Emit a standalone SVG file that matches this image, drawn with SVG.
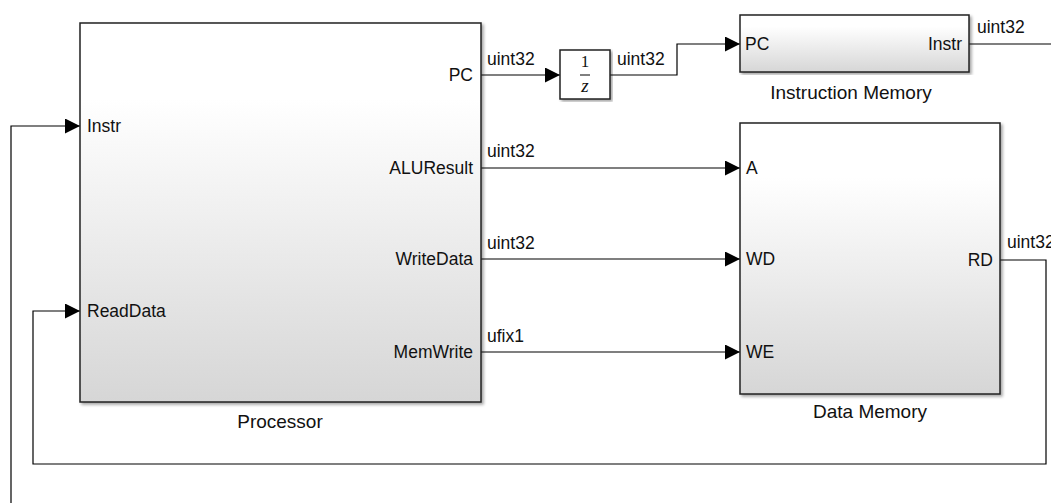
<svg xmlns="http://www.w3.org/2000/svg" width="1051" height="503" viewBox="0 0 1051 503">
<defs>
<linearGradient id="g" x1="0" y1="0" x2="0" y2="1">
<stop offset="0" stop-color="#ffffff"/>
<stop offset="0.2" stop-color="#ffffff"/>
<stop offset="1" stop-color="#d6d6d6"/>
</linearGradient>
<filter id="sh" x="-5%" y="-5%" width="110%" height="110%">
<feDropShadow dx="2" dy="2" stdDeviation="1.5" flood-color="#000" flood-opacity="0.35"/>
</filter>
<marker id="arr" markerWidth="16" markerHeight="16" refX="15" refY="7.5" orient="auto" markerUnits="userSpaceOnUse">
<path d="M0,0 L15,7.5 L0,15 Z" fill="#000"/>
</marker>
<style>
.blk{fill:url(#g);stroke:#222;stroke-width:1.5;filter:url(#sh)}
.plain{fill:#fff;stroke:#222;stroke-width:1.5;filter:url(#sh)}
text{font-family:"Liberation Sans",Arial,sans-serif;font-size:17.5px;fill:#111}
.end{text-anchor:end}
.mid{text-anchor:middle}
.title{font-size:19px}
.w{stroke:#000;stroke-width:1.2;fill:none}
.serif{font-family:"Liberation Serif","Times New Roman",serif}
</style>
</defs>

<g id="connectors">
<path class="w" d="M481,75 H560" marker-end="url(#arr)"/>
<path class="w" d="M610,75 H677 V44 H740" marker-end="url(#arr)"/>
<path class="w" d="M969,44 H1051"/>
<path class="w" d="M11,503 V126 H80" marker-end="url(#arr)"/>
<path class="w" d="M481,168 H740" marker-end="url(#arr)"/>
<path class="w" d="M481,259 H740" marker-end="url(#arr)"/>
<path class="w" d="M481,352 H740" marker-end="url(#arr)"/>
<path class="w" d="M1000,260 H1046 V464 H33 V311 H80" marker-end="url(#arr)"/>
<text x="487" y="65">uint32</text>
<text x="617" y="65">uint32</text>
<text x="977" y="33">uint32</text>
<text x="487" y="157">uint32</text>
<text x="487" y="249">uint32</text>
<text x="487" y="342">ufix1</text>
<text x="1007" y="248">uint32</text>
</g>

<g id="processor">
<rect class="blk" x="80" y="23" width="401" height="379"/>
<text x="87" y="132">Instr</text>
<text x="87" y="317">ReadData</text>
<text class="end" x="473" y="81">PC</text>
<text class="end" x="473" y="174">ALUResult</text>
<text class="end" x="473" y="265">WriteData</text>
<text class="end" x="473" y="358">MemWrite</text>
<text class="mid title" x="280" y="428">Processor</text>
</g>

<g id="delay">
<rect class="plain" x="560" y="50" width="50" height="49"/>
<text class="mid serif" x="585" y="67" style="font-size:17px">1</text>
<line x1="580" y1="75" x2="590" y2="75" stroke="#000" stroke-width="1"/>
<text class="mid serif" x="585" y="92" style="font-size:19px;font-style:italic">z</text>
</g>

<g id="instruction-memory">
<rect class="blk" x="740" y="15" width="229" height="57"/>
<text x="745" y="50">PC</text>
<text class="end" x="962" y="50">Instr</text>
<text class="mid title" x="851" y="99">Instruction Memory</text>
</g>

<g id="data-memory">
<rect class="blk" x="740" y="123" width="260" height="271"/>
<text x="746" y="174">A</text>
<text x="746" y="265">WD</text>
<text x="746" y="358">WE</text>
<text class="end" x="993" y="266">RD</text>
<text class="mid title" x="870" y="418">Data Memory</text>
</g>
</svg>
